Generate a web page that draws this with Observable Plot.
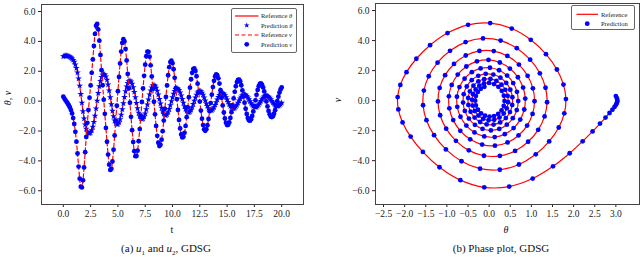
<!DOCTYPE html>
<html><head><meta charset="utf-8">
<script src="https://cdn.jsdelivr.net/npm/d3@7"></script>
<script src="https://cdn.jsdelivr.net/npm/@observablehq/plot@0.6"></script>
<style>
body{margin:0;background:#fff;font-family:"Liberation Serif","DejaVu Serif",serif;}
#wrap{position:relative;width:640px;height:257px;overflow:hidden;background:#fff;}
#wrap svg, #wrap svg text{font-family:"Liberation Serif","DejaVu Serif",serif !important;}
.panel{position:absolute;top:0;width:320px;}
.cap{position:absolute;top:242px;font-size:11px;white-space:nowrap;transform:translateX(-50%);color:#111;}
.lab{position:absolute;font-size:10px;white-space:nowrap;color:#111;transform:translate(-50%,-50%);}
.legend{position:absolute;border:1px solid #666;border-radius:2px;background:#fff;box-sizing:border-box;}
.legend svg{position:absolute;left:0;top:0;}
</style></head><body>
<div id="wrap">
  <div class="panel" id="p1" style="left:0"></div>
  <div class="panel" id="p2" style="left:320px"></div>
  <div class="lab" style="left:172px;top:229px">t</div>
  <div class="lab" style="left:7px;top:98px;transform:translate(-50%,-50%) rotate(-90deg)"><i>θ</i>, <i>v</i></div>
  <div class="lab" style="left:506px;top:229px"><i>θ</i></div>
  <div class="lab" style="left:337px;top:100px;transform:translate(-50%,-50%) rotate(-90deg)"><i>v</i></div>
  <div class="cap" style="left:166px">(a) <i>u</i><sub style="font-size:7px">1</sub> and <i>u</i><sub style="font-size:7px">2</sub>, GDSG</div>
  <div class="cap" style="left:501px">(b) Phase plot, GDSG</div>
  <div class="legend" id="leg1" style="left:231px;top:8px;width:66px;height:45px"></div>
  <div class="legend" id="leg2" style="left:571px;top:5px;width:64px;height:25px"></div>
</div>
<script>
// time samples
const t = [0.0,0.1,0.2,0.3,0.4,0.5,0.6,0.7,0.8,0.9,1.0,1.1,1.2,1.3,1.4,1.5,1.6,1.7,1.8,1.9,
2.0,2.1,2.2,2.3,2.4,2.5,2.6,2.7,2.8,2.9,3.0,3.1,3.2,3.3,3.4,3.5,3.6,3.7,3.8,3.9,
4.0,4.1,4.2,4.3,4.4,4.5,4.6,4.7,4.8,4.9,5.0,5.1,5.2,5.3,5.4,5.5,5.6,5.7,5.8,5.9,
6.0,6.1,6.2,6.3,6.4,6.5,6.6,6.7,6.8,6.9,7.0,7.1,7.2,7.3,7.4,7.5,7.6,7.7,7.8,7.9,
8.0,8.1,8.2,8.3,8.4,8.5,8.6,8.7,8.8,8.9,9.0,9.1,9.2,9.3,9.4,9.5,9.6,9.7,9.8,9.9,
10.0,10.1,10.2,10.3,10.4,10.5,10.6,10.7,10.8,10.9,11.0,11.1,11.2,11.3,11.4,11.5,11.6,11.7,11.8,11.9,
12.0,12.1,12.2,12.3,12.4,12.5,12.6,12.7,12.8,12.9,13.0,13.1,13.2,13.3,13.4,13.5,13.6,13.7,13.8,13.9,
14.0,14.1,14.2,14.3,14.4,14.5,14.6,14.7,14.8,14.9,15.0,15.1,15.2,15.3,15.4,15.5,15.6,15.7,15.8,15.9,
16.0,16.1,16.2,16.3,16.4,16.5,16.6,16.7,16.8,16.9,17.0,17.1,17.2,17.3,17.4,17.5,17.6,17.7,17.8,17.9,
18.0,18.1,18.2,18.3,18.4,18.5,18.6,18.7,18.8,18.9,19.0,19.1,19.2,19.3,19.4,19.5,19.6,19.7,19.8,19.9,20.0];
// angle theta
const theta = [3.000,3.023,3.034,3.035,3.025,3.004,2.969,2.919,2.851,2.755,2.625,2.449,2.214,1.907,1.513,1.031,0.475,-0.115,-0.681,-1.175,
-1.569,-1.858,-2.049,-2.149,-2.166,-2.102,-1.956,-1.723,-1.398,-0.985,-0.498,0.025,0.535,0.985,1.346,1.604,1.760,1.818,1.780,1.648,
1.422,1.104,0.706,0.253,-0.215,-0.653,-1.023,-1.303,-1.484,-1.564,-1.545,-1.430,-1.221,-0.925,-0.557,-0.145,0.272,0.655,0.971,1.201,
1.335,1.372,1.313,1.162,0.924,0.614,0.254,-0.123,-0.481,-0.786,-1.017,-1.160,-1.211,-1.171,-1.042,-0.831,-0.553,-0.230,0.109,0.431,
0.705,0.911,1.036,1.075,1.028,0.899,0.696,0.435,0.138,-0.166,-0.448,-0.682,-0.850,-0.942,-0.953,-0.885,-0.743,-0.539,-0.288,-0.015,
0.253,0.492,0.681,0.804,0.855,0.832,0.737,0.579,0.371,0.132,-0.115,-0.346,-0.539,-0.678,-0.754,-0.762,-0.702,-0.581,-0.409,-0.202,
0.020,0.236,0.425,0.570,0.659,0.688,0.654,0.561,0.419,0.240,0.042,-0.156,-0.336,-0.479,-0.575,-0.616,-0.601,-0.530,-0.412,-0.257,
-0.081,0.099,0.267,0.405,0.502,0.550,0.547,0.493,0.395,0.261,0.105,-0.059,-0.213,-0.344,-0.439,-0.491,-0.496,-0.455,-0.372,-0.255,
-0.117,0.031,0.172,0.294,0.385,0.438,0.449,0.417,0.346,0.245,0.121,-0.012,-0.140,-0.253,-0.339,-0.391,-0.405,-0.380,-0.320,-0.231,
-0.121,-0.001,0.116,0.219,0.299,0.349,0.365,0.346,0.294,0.215,0.117,0.010,-0.096,-0.191,-0.265,-0.313,-0.329,-0.314,-0.269,-0.199,-0.112];
// angular velocity v
const v = [0.300,0.169,0.057,-0.047,-0.154,-0.274,-0.418,-0.600,-0.825,-1.131,-1.532,-2.053,-2.711,-3.505,-4.379,-5.193,-5.727,-5.777,-5.299,-4.439,
-3.417,-2.398,-1.454,-0.588,0.233,1.049,1.897,2.790,3.693,4.502,5.047,5.165,4.800,4.051,3.092,2.072,1.069,0.100,-0.848,-1.790,
-2.719,-3.579,-4.256,-4.606,-4.531,-4.040,-3.249,-2.302,-1.304,-0.309,0.669,1.622,2.526,3.320,3.897,4.145,4.001,3.494,2.727,1.819,
0.858,-0.107,-1.051,-1.945,-2.739,-3.351,-3.685,-3.673,-3.314,-2.679,-1.869,-0.973,-0.054,0.849,1.698,2.442,3.006,3.311,3.302,2.979,
2.401,1.655,0.820,-0.041,-0.883,-1.661,-2.319,-2.787,-3.002,-2.928,-2.578,-2.010,-1.299,-0.516,0.283,1.049,1.732,2.274,2.615,2.708,
2.539,2.136,1.558,0.871,0.138,-0.590,-1.263,-1.830,-2.234,-2.429,-2.387,-2.119,-1.662,-1.075,-0.416,0.260,0.903,1.465,1.894,2.146,
2.190,2.022,1.668,1.172,0.589,-0.029,-0.632,-1.172,-1.605,-1.885,-1.983,-1.887,-1.614,-1.197,-0.685,-0.127,0.431,0.942,1.363,1.653,
1.783,1.738,1.527,1.177,0.728,0.226,-0.285,-0.762,-1.163,-1.451,-1.598,-1.587,-1.424,-1.129,-0.736,-0.286,0.180,0.621,0.998,1.277,
1.430,1.443,1.315,1.065,0.720,0.318,-0.105,-0.510,-0.861,-1.126,-1.279,-1.307,-1.207,-0.993,-0.690,-0.329,0.054,0.424,0.748,0.997,
1.146,1.182,1.102,0.918,0.651,0.328,-0.018,-0.355,-0.653,-0.884,-1.027,-1.067,-1.004,-0.844,-0.608,-0.319,-0.006,0.301,0.574,0.787,0.921];

const tTicks = [0, 2.5, 5, 7.5, 10, 12.5, 15, 17.5, 20];
const yTicks = [-6, -4, -2, 0, 2, 4, 6];
const thetaTicks = [-2.5, -2, -1.5, -1, -0.5, 0, 0.5, 1, 1.5, 2, 2.5, 3];
const legend1 = ["Reference θ", "Prediction θ", "Reference v", "Prediction v"];
const legend2 = ["Reference", "Prediction"];

const rows = t.map((tt, i) => ({t: tt, theta: theta[i], v: v[i]}));
const fmt = d3.format(".1f");
const RED = "#ff0000", BLUE = "#0000ff";
const baseStyle = {fontFamily: "Liberation Serif, serif", fontSize: "9.5px", color: "#222", background: "white", overflow: "visible"};

const p1 = Plot.plot({
  width: 320, height: 236,
  marginLeft: 41, marginRight: 17, marginTop: 4, marginBottom: 32,
  style: baseStyle,
  x: {domain: [-2, 22], ticks: tTicks, tickFormat: fmt, tickSize: 3, tickPadding: 3, label: null},
  y: {domain: [-6.92, 6.47], ticks: yTicks, tickFormat: fmt, tickSize: 3, tickPadding: 3, label: null},
  marks: [
    Plot.line(rows, {x: "t", y: "theta", stroke: RED, strokeWidth: 1.2, curve: "catmull-rom"}),
    Plot.dot(rows, {x: "t", y: "theta", symbol: "star", r: 2.1, fill: BLUE, stroke: "none"}),
    Plot.line(rows, {x: "t", y: "v", stroke: RED, strokeWidth: 1.2, strokeDasharray: "4,2.5", curve: "catmull-rom"}),
    Plot.dot(rows, {x: "t", y: "v", r: 2.4, fill: BLUE, stroke: "none"}),
    Plot.frame({stroke: "#444", strokeWidth: 1})
  ]
});
document.getElementById("p1").appendChild(p1);

const p2 = Plot.plot({
  width: 320, height: 236,
  marginLeft: 55, marginRight: 1, marginTop: 3, marginBottom: 32,
  style: baseStyle,
  x: {domain: [-2.69, 3.56], ticks: thetaTicks, tickFormat: fmt, tickSize: 3, tickPadding: 3, label: null},
  y: {domain: [-6.92, 6.47], ticks: yTicks, tickFormat: fmt, tickSize: 3, tickPadding: 3, label: null},
  marks: [
    Plot.line(rows, {x: "theta", y: "v", stroke: RED, strokeWidth: 1.2, curve: "catmull-rom"}),
    Plot.dot(rows, {x: "theta", y: "v", r: 2.4, fill: BLUE, stroke: "none"}),
    Plot.frame({stroke: "#444", strokeWidth: 1})
  ]
});
document.getElementById("p2").appendChild(p2);

// legends
function legend(el, labels, kinds, w, h, rowY, x0, x1, tx) {
  const svg = d3.select(el).append("svg").attr("width", w).attr("height", h);
  labels.forEach((lab, i) => {
    const y = rowY[i], k = kinds[i];
    if (k === "line" || k === "dash") {
      svg.append("line").attr("x1", x0).attr("x2", x1).attr("y1", y).attr("y2", y)
        .attr("stroke", RED).attr("stroke-width", 1.2)
        .attr("stroke-dasharray", k === "dash" ? "4,2.5" : null);
    } else {
      const cx = (x0 + x1) / 2;
      const sym = k === "star" ? d3.symbol(d3.symbolStar, 10)() : d3.symbol(d3.symbolCircle, 18)();
      svg.append("path").attr("d", sym).attr("transform", `translate(${cx},${y})`).attr("fill", BLUE);
    }
    const parts = lab.split(" ");
    const txt = svg.append("text").attr("x", tx).attr("y", y).attr("dy", "0.35em")
      .attr("font-size", 6.5).attr("fill", "#222");
    txt.append("tspan").text(parts[0]);
    if (parts[1]) txt.append("tspan").attr("font-style", "italic").text(" " + parts[1]);
  });
}
legend(document.getElementById("leg1"), legend1, ["line", "star", "dash", "dot"], 66, 45,
  [7, 16.3, 26, 35.3], 3, 26.5, 29);
legend(document.getElementById("leg2"), legend2, ["line", "dot"], 64, 25,
  [8.3, 17.7], 4.5, 26, 29);
</script>
</body></html>
